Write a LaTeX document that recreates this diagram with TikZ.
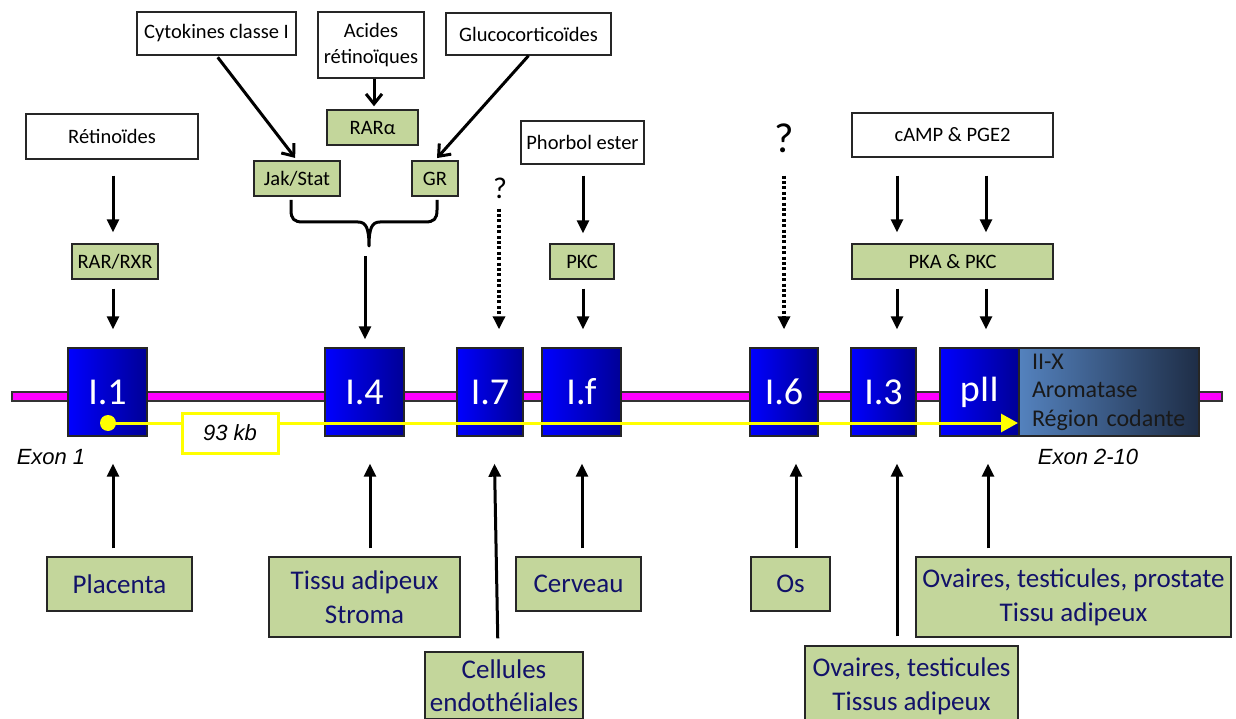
\documentclass[tikz,border=0pt]{standalone}
\usepackage{fontspec}
\setmainfont{Carlito}
\newfontfamily\arialfont{Liberation Sans}
\usetikzlibrary{arrows.meta,calc}
\definecolor{boxgreen}{RGB}{195,214,155}
\definecolor{tissuenavy}{RGB}{18,18,105}
\definecolor{exonblue}{RGB}{0,0,255}
\definecolor{exondark}{RGB}{0,0,150}
\definecolor{codlight}{RGB}{84,130,190}
\definecolor{coddark}{RGB}{30,45,70}
\definecolor{genepink}{RGB}{255,0,255}
\definecolor{genepurple}{RGB}{128,0,128}
\definecolor{kbyellow}{RGB}{255,255,0}
\pgfdeclarehorizontalshading{geneline}{100bp}{color(0bp)=(genepink); color(74bp)=(genepink); color(100bp)=(genepurple)}
\newcommand\sigsz{\fontsize{20.5}{26}\selectfont}
\newcommand\tissz{\fontsize{27}{34}\selectfont}
\newcommand\exsz{\fontsize{38}{40}\selectfont}

\begin{document}
\begin{tikzpicture}[x=1pt,y=-1pt,
  signal/.style={draw=black!85,line width=1.4pt,fill=white,inner sep=0pt,
    font=\sigsz,align=center},
  relay/.style={signal,fill=boxgreen},
  tissue/.style={relay,font=\tissz,text=tissuenavy},
  exon/.style={draw=black!85,line width=1.4pt,left color=exonblue,
    right color=exondark,text=white,font=\exsz,minimum height=88pt,inner sep=0pt},
  act/.style={line width=3pt,-{Triangle[length=13pt,width=12pt]}},
  vact/.style={line width=3pt,-{Straight Barb[length=10pt,width=16pt]}},
  maybe/.style={act,line width=3.2pt,dash pattern=on 3pt off 2.4pt},
  lbl/.style={font=\arialfont\itshape\fontsize{22}{26}\selectfont,inner sep=0pt}]
  \useasboundingbox (0,0) rectangle (1236,719);
  \fill[white] (0,0) rectangle (1236,719);

  % gene and exons
  \shadedraw[shading=geneline,draw=black!80,line width=1.2pt] (12,392) rectangle (1222,401);
  \node[exon,minimum width=79pt] (ex11) at (107.5,392) {I.1};
  \node[exon,minimum width=79pt] (ex14) at (364.5,392) {I.4};
  \node[exon,minimum width=66pt] (ex17) at (490,392) {I.7};
  \node[exon,minimum width=79pt] (ex1f) at (581.5,392) {I.f};
  \node[exon,minimum width=68pt] (ex16) at (784,392) {I.6};
  \node[exon,minimum width=65pt] (ex13) at (883.5,392) {I.3};
  \node[exon,minimum width=79pt] (expii) at (979.5,392) {pII};
  \node[exon,left color=codlight,right color=coddark,minimum width=180pt,
    text=black!90,font=\fontsize{24}{28.5}\selectfont,align=left,
    text width=154pt] (aro) at (1109,392) {II-X\\Aromatase\\Région codante};

  \node[circle,fill=kbyellow,inner sep=0pt,minimum size=16pt] (tss) at (108,423) {};
  \coordinate (atg) at (1018,423);
  \draw[kbyellow,line width=3pt,-{Triangle[length=17pt,width=18pt]}] (tss.center) -- (atg);
  \node[lbl,draw=kbyellow,line width=3pt,fill=white,minimum width=96pt,
    minimum height=40pt] (kb) at (230,433) {93 kb};
  \node[lbl] (exon1) at (51,457) {Exon 1};
  \node[lbl] (exon210) at (1088,457) {Exon 2-10};

  % signals
  \node[signal,minimum width=172pt,minimum height=45pt] (retin) at (112,136.5) {Rétinoïdes};
  \node[relay,minimum width=86pt,minimum height=35pt] (rarrxr) at (115,261.5) {RAR/RXR};
  \node[signal,minimum width=159pt,minimum height=43pt] (cyto) at (216.5,33.5) {Cytokines classe I};
  \node[signal,minimum width=106pt,minimum height=66pt] (acid) at (371,45) {Acides\\rétinoïques};
  \node[signal,minimum width=165pt,minimum height=42pt] (gluco) at (528.5,34) {Glucocorticoïdes};
  \node[relay,minimum width=91pt,minimum height=35pt] (rara) at (372.5,127.5) {RARα};
  \node[relay,minimum width=86pt,minimum height=35pt] (jak) at (297,178.5) {Jak/Stat};
  \node[relay,minimum width=46pt,minimum height=35pt] (gr) at (435,178.5) {GR};
  \node[signal,minimum width=123pt,minimum height=43pt] (phorbol) at (582.5,142.5) {Phorbol ester};
  \node[relay,minimum width=64pt,minimum height=35pt] (pkc) at (582,261.5) {PKC};
  \node[signal,minimum width=201pt,minimum height=44pt] (camp) at (952.5,135) {cAMP \& PGE2};
  \node[relay,minimum width=201pt,minimum height=35pt] (pkapkc) at (952.5,261.5) {PKA \& PKC};
  \node[font=\fontsize{30}{30}\selectfont,inner sep=0pt] (q17) at (500,188) {?};
  \node[font=\fontsize{42}{42}\selectfont,inner sep=0pt] (q16) at (784,138) {?};

  % tissues
  \node[tissue,minimum width=145pt,minimum height=54pt] (plac) at (119.5,584) {Placenta};
  \node[tissue,minimum width=191pt,minimum height=80pt] (tissu) at (364.5,597) {Tissu adipeux\\Stroma};
  \node[tissue,minimum width=158pt,minimum height=67pt,font=\fontsize{27}{33}\selectfont]
    (endo) at (504,685.5) {Cellules\\endothéliales};
  \node[tissue,minimum width=125pt,minimum height=54pt] (cerv) at (578.5,584) {Cerveau};
  \node[tissue,minimum width=79pt,minimum height=54pt] (os) at (790.5,584) {Os};
  \node[tissue,minimum width=213pt,minimum height=80pt] (ovt) at (911.5,686) {Ovaires, testicules\\Tissus adipeux};
  \node[tissue,minimum width=315pt,minimum height=80pt] (ovp) at (1073.5,597) {Ovaires, testicules, prostate\\Tissu adipeux};

  % pathways
  \draw[act,shorten <=16pt,shorten >=11pt] (retin.south -| 113,0) -- (rarrxr.north -| 113,0);
  \draw[act,shorten <=9pt,shorten >=18pt] (rarrxr.south -| 113,0) -- (ex11.north -| 113,0);
  \draw[vact,shorten <=2pt,shorten >=3pt] (cyto.south) -- (jak.north);
  \draw[vact,shorten >=3pt] (acid.south -| 374,0) -- (rara.north -| 374,0);
  \draw[vact,shorten >=3pt] (gluco.south) -- (gr.north);
  \draw[line width=3pt,line join=round] (291,200) -- (291,210)
    .. controls (291,219) and (294,222) .. (303,222) -- (358,222)
    .. controls (366,222) and (369,228) .. (369,246)
    .. controls (369,228) and (372,222) .. (380,222) -- (425,222)
    .. controls (434,222) and (437,219) .. (437,210) -- (437,200);
  \coordinate (brtip) at (365,256);
  \draw[act,shorten >=8pt] (brtip) -- (ex14.north -| brtip);
  \draw[maybe,shorten <=10pt,shorten >=18pt] (q17.south -| 499,0) -- (ex17.north -| 499,0);
  \draw[maybe,shorten <=23pt,shorten >=18pt] (q16.south) -- (ex16.north);
  \draw[act,shorten <=11pt,shorten >=10pt] (phorbol.south -| 583,0) -- (pkc.north -| 583,0);
  \draw[act,shorten <=9pt,shorten >=18pt] (pkc.south -| 583,0) -- (ex1f.north -| 583,0);
  \foreach \ax/\exn in {897/ex13,986/expii} {
    \draw[act,shorten <=18pt,shorten >=11pt] (camp.south -| \ax,0) -- (pkapkc.north -| \ax,0);
    \draw[act,shorten <=9pt,shorten >=18pt] (pkapkc.south -| \ax,0) -- (\exn.north -| \ax,0);
  }

  % expression sites
  \foreach \tis/\ax/\exn in {plac/113/ex11,tissu/370/ex14,cerv/582/ex1f,os/796/ex16,ovp/988/expii}
    \draw[act,shorten <=8pt,shorten >=27pt] (\tis.north -| \ax,0) -- (\exn.south -| \ax,0);
  \draw[act,shorten <=13pt,shorten >=27pt] ([xshift=-6pt]endo.north) -- ([xshift=4pt]ex17.south);
  \draw[act,shorten <=9pt,shorten >=27pt] (ovt.north -| 897,0) -- (ex13.south -| 897,0);
\end{tikzpicture}
\end{document}
